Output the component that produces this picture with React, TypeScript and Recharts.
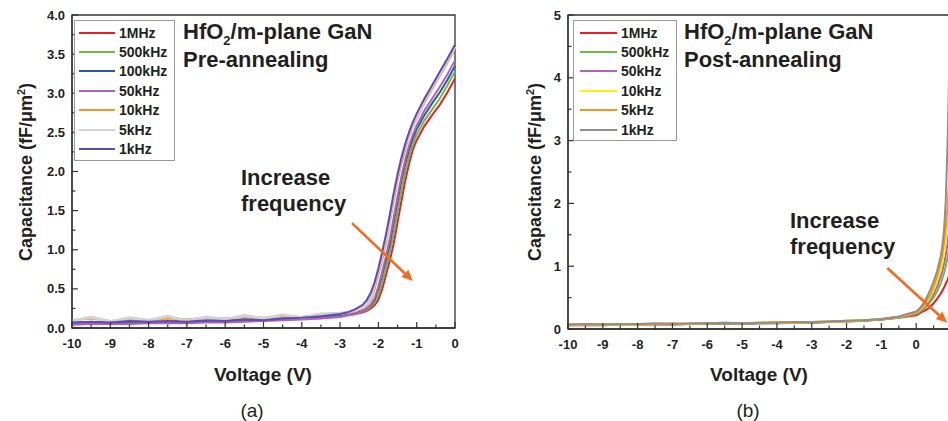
import { LineChart, Line, XAxis, YAxis, Legend, ReferenceLine, ReferenceArea } from 'recharts';

const FONT = '"Liberation Sans", Arial, Helvetica, sans-serif';
const AXIS = '#333333';
const ARROW = '#F26B21';
const TEXT = '#231f20';

// ---- (a) pre-annealing ----
const VOLT_A = [
  -10, -9.5, -9, -8.5, -8, -7.5, -7, -6.5, -6, -5.5, -5, -4.5, -4, -3.5, -3,
  -2.8, -2.6, -2.4, -2.3, -2.2, -2.1, -2.0, -1.9, -1.8, -1.7, -1.6, -1.5, -1.4,
  -1.3, -1.2, -1.1, -1.0, -0.8, -0.6, -0.4, -0.2, 0,
];
const PRE_1MHZ = [0.06, 0.06, 0.07, 0.07, 0.07, 0.08, 0.08, 0.09, 0.09, 0.10, 0.11, 0.12, 0.13, 0.14, 0.16, 0.17, 0.18, 0.20, 0.22, 0.25, 0.29, 0.36, 0.50, 0.68, 0.87, 1.08, 1.35, 1.62, 1.88, 2.10, 2.28, 2.40, 2.58, 2.72, 2.85, 3.01, 3.19];
const PRE_500K = [0.06, 0.07, 0.07, 0.07, 0.08, 0.08, 0.09, 0.09, 0.10, 0.10, 0.11, 0.12, 0.13, 0.15, 0.16, 0.17, 0.19, 0.21, 0.23, 0.27, 0.32, 0.42, 0.58, 0.77, 0.97, 1.21, 1.48, 1.75, 1.99, 2.19, 2.35, 2.47, 2.65, 2.79, 2.93, 3.10, 3.28];
const PRE_100K = [0.07, 0.07, 0.07, 0.08, 0.08, 0.08, 0.09, 0.09, 0.10, 0.11, 0.11, 0.12, 0.14, 0.15, 0.17, 0.18, 0.19, 0.22, 0.25, 0.29, 0.36, 0.50, 0.68, 0.87, 1.08, 1.35, 1.62, 1.88, 2.10, 2.28, 2.42, 2.54, 2.72, 2.87, 3.01, 3.17, 3.35];
const PRE_50K = [0.04, 0.05, 0.05, 0.05, 0.06, 0.06, 0.06, 0.07, 0.07, 0.08, 0.09, 0.10, 0.11, 0.12, 0.14, 0.16, 0.18, 0.21, 0.25, 0.30, 0.38, 0.53, 0.72, 0.92, 1.14, 1.41, 1.68, 1.93, 2.15, 2.33, 2.47, 2.59, 2.78, 2.93, 3.08, 3.24, 3.42];
const PRE_10K = [0.10, 0.12, 0.09, 0.11, 0.10, 0.12, 0.11, 0.13, 0.12, 0.14, 0.13, 0.15, 0.14, 0.17, 0.18, 0.19, 0.21, 0.25, 0.29, 0.36, 0.50, 0.68, 0.87, 1.08, 1.35, 1.62, 1.88, 2.10, 2.28, 2.45, 2.58, 2.68, 2.88, 3.05, 3.22, 3.39, 3.57];
const PRE_5K = [0.09, 0.14, 0.08, 0.13, 0.10, 0.15, 0.09, 0.14, 0.11, 0.16, 0.12, 0.17, 0.13, 0.18, 0.19, 0.20, 0.23, 0.27, 0.31, 0.40, 0.56, 0.74, 0.94, 1.16, 1.42, 1.70, 1.95, 2.17, 2.34, 2.48, 2.61, 2.71, 2.91, 3.08, 3.25, 3.42, 3.60];
const PRE_1K = [0.07, 0.08, 0.07, 0.09, 0.08, 0.09, 0.08, 0.10, 0.09, 0.11, 0.10, 0.12, 0.13, 0.15, 0.18, 0.20, 0.24, 0.30, 0.36, 0.45, 0.58, 0.76, 0.97, 1.20, 1.45, 1.72, 1.96, 2.17, 2.35, 2.50, 2.63, 2.74, 2.93, 3.10, 3.27, 3.44, 3.62];

const NAMES_A = ['1MHz', '500kHz', '100kHz', '50kHz', '10kHz', '5kHz', '1kHz'];
const COLORS_A = ['#EC1C24', '#6CBD45', '#2D5AA8', '#B35EC1', '#F7941E', '#D2D2D2', '#5B4DB3'];
const SERIES_A = [PRE_1MHZ, PRE_500K, PRE_100K, PRE_50K, PRE_10K, PRE_5K, PRE_1K];

const X_TICKS_A = [-10, -9.5, -9, -8.5, -8, -7.5, -7, -6.5, -6, -5.5, -5, -4.5, -4, -3.5, -3, -2.5, -2, -1.5, -1, -0.5, 0];
const Y_TICKS_A = [0, 0.25, 0.5, 0.75, 1, 1.25, 1.5, 1.75, 2, 2.25, 2.5, 2.75, 3, 3.25, 3.5, 3.75, 4];

// ---- (b) post-annealing ----
const VOLT_B = [
  -10, -9.5, -9, -8.5, -8, -7.5, -7, -6.5, -6, -5.5, -5, -4.5, -4, -3.5, -3, -2.5,
  -2, -1.5, -1, -0.5, 0, 0.1, 0.2, 0.3, 0.4, 0.5, 0.6, 0.7, 0.75, 0.8, 0.85, 0.9, 0.95, 1.0,
];
const POST_1MHZ = [0.06, 0.06, 0.06, 0.07, 0.07, 0.07, 0.07, 0.08, 0.08, 0.08, 0.08, 0.09, 0.09, 0.10, 0.10, 0.11, 0.12, 0.13, 0.15, 0.18, 0.22, 0.25, 0.28, 0.31, 0.35, 0.41, 0.48, 0.56, 0.61, 0.66, 0.72, 0.78, 0.86, 0.95];
const POST_500K = [0.06, 0.07, 0.06, 0.07, 0.07, 0.08, 0.07, 0.08, 0.08, 0.09, 0.08, 0.09, 0.09, 0.10, 0.10, 0.11, 0.12, 0.13, 0.15, 0.18, 0.24, 0.27, 0.31, 0.36, 0.43, 0.50, 0.60, 0.72, 0.80, 0.89, 1.00, 1.14, 1.30, 1.50];
const POST_50K = [0.07, 0.07, 0.07, 0.07, 0.08, 0.08, 0.08, 0.08, 0.09, 0.09, 0.09, 0.09, 0.10, 0.10, 0.11, 0.11, 0.12, 0.14, 0.15, 0.19, 0.25, 0.29, 0.33, 0.39, 0.47, 0.56, 0.68, 0.83, 0.92, 1.04, 1.18, 1.36, 1.60, 1.90];
const POST_10K = [0.06, 0.07, 0.07, 0.07, 0.07, 0.08, 0.08, 0.08, 0.09, 0.09, 0.09, 0.10, 0.10, 0.10, 0.11, 0.12, 0.12, 0.14, 0.16, 0.19, 0.26, 0.30, 0.35, 0.42, 0.51, 0.62, 0.76, 0.94, 1.05, 1.20, 1.40, 1.65, 2.00, 2.50];
const POST_5K = [0.06, 0.07, 0.07, 0.08, 0.07, 0.08, 0.09, 0.08, 0.09, 0.10, 0.09, 0.10, 0.11, 0.10, 0.11, 0.12, 0.13, 0.14, 0.16, 0.19, 0.27, 0.31, 0.37, 0.45, 0.55, 0.68, 0.84, 1.05, 1.18, 1.38, 1.62, 1.95, 2.40, 3.00];
const POST_1K = [0.07, 0.08, 0.07, 0.08, 0.08, 0.09, 0.08, 0.09, 0.09, 0.10, 0.09, 0.10, 0.10, 0.11, 0.11, 0.12, 0.13, 0.14, 0.16, 0.20, 0.28, 0.33, 0.40, 0.50, 0.62, 0.76, 0.92, 1.15, 1.32, 1.58, 2.05, 2.95, 4.20, 5.00];

const NAMES_B = ['1MHz', '500kHz', '50kHz', '10kHz', '5kHz', '1kHz'];
const COLORS_B = ['#EC1C24', '#6CBD45', '#B35EC1', '#FFF200', '#F7941E', '#8F8F8F'];
const SERIES_B = [POST_1MHZ, POST_500K, POST_50K, POST_10K, POST_5K, POST_1K];

const X_TICKS_B = [-10, -9.5, -9, -8.5, -8, -7.5, -7, -6.5, -6, -5.5, -5, -4.5, -4, -3.5, -3, -2.5, -2, -1.5, -1, -0.5, 0, 0.5, 1];
const Y_TICKS_B = [0, 0.5, 1, 1.5, 2, 2.5, 3, 3.5, 4, 4.5, 5];

function toRows(volts: number[], series: number[][]) {
  return volts.map((v, i) => {
    const row: any = { v };
    series.forEach((s, k) => {
      row['s' + k] = s[i];
    });
    return row;
  });
}

const rowsA = toRows(VOLT_A, SERIES_A);
const rowsB = toRows(VOLT_B, SERIES_B);

function XTick({ x, y, payload }: any) {
  const major = Number.isInteger(payload.value);
  return (
    <g>
      <line x1={x} x2={x} y1={y} y2={y - (major ? 6 : 3.5)} stroke={AXIS} strokeWidth={1.2} />
      {major && (
        <text x={x} y={y + 20} textAnchor="middle" fontSize={13} fontWeight="bold" fontFamily={FONT} fill={TEXT}>
          {payload.value}
        </text>
      )}
    </g>
  );
}

function makeYTick(step: number, digits: number) {
  return ({ x, y, payload }: any) => {
    const k = payload.value / step;
    const major = Math.abs(k - Math.round(k)) < 1e-6;
    return (
      <g>
        <line x1={x} x2={x + (major ? 6 : 3.5)} y1={y} y2={y} stroke={AXIS} strokeWidth={1.2} />
        {major && (
          <text x={x - 7} y={y + 4.5} textAnchor="end" fontSize={13} fontWeight="bold" fontFamily={FONT} fill={TEXT}>
            {payload.value.toFixed(digits)}
          </text>
        )}
      </g>
    );
  };
}

function LegendBox({ names, colors, padLeft, lineW }: any) {
  return (
    <div
      style={{
        border: '1px solid #9a9a9a',
        background: '#fff',
        padding: `2px 4px 1px ${padLeft}px`,
        fontFamily: FONT,
        fontWeight: 'bold',
        fontSize: 14,
        color: TEXT,
      }}
    >
      {names.map((n: string, i: number) => (
        <div key={n} style={{ display: 'flex', alignItems: 'center', height: 19.4 }}>
          <span style={{ width: lineW, borderTop: `2.5px solid ${colors[i]}`, marginRight: 4 }} />
          <span>{n}</span>
        </div>
      ))}
    </div>
  );
}

function Arrow(props: any) {
  const { x1, y1, x2, y2 } = props;
  const a = Math.atan2(y2 - y1, x2 - x1);
  const L = 11;
  const W = 5;
  const bx = x2 - L * Math.cos(a);
  const by = y2 - L * Math.sin(a);
  const pts = `${x2},${y2} ${bx + W * Math.sin(a)},${by - W * Math.cos(a)} ${bx - W * Math.sin(a)},${by + W * Math.cos(a)}`;
  return (
    <g>
      <line x1={x1} y1={y1} x2={bx} y2={by} stroke={ARROW} strokeWidth={2.6} />
      <polygon points={pts} fill={ARROW} />
    </g>
  );
}

function Title({ x, second }: { x: number; second: string }) {
  return (
    <text x={x} y={39} fontSize={22} fontWeight="bold" fontFamily={FONT} fill={TEXT}>
      HfO<tspan dy={6} fontSize={13}>2</tspan>
      <tspan dy={-6}>/m-plane GaN</tspan>
      <tspan x={x} y={67}>{second}</tspan>
    </text>
  );
}

function YTitle({ cx }: { cx: number }) {
  return (
    <text
      transform={`rotate(-90 ${cx} 172)`}
      x={cx}
      y={178}
      textAnchor="middle"
      fontSize={18}
      fontWeight="bold"
      fontFamily={FONT}
      fill={TEXT}
    >
      Capacitance (fF/μm<tspan dy={-7} fontSize={11}>2</tspan>
      <tspan dy={7}>)</tspan>
    </text>
  );
}

export default function App() {
  return (
    <div style={{ position: 'absolute', left: 0, top: 0, width: 948, height: 421, overflow: 'hidden', background: '#fff' }}>
      <div style={{ position: 'absolute', left: 0, top: 0 }}>
        <LineChart width={470} height={421} data={rowsA} margin={{ top: 15, right: 15, bottom: 0, left: 0 }}>
          <XAxis
            dataKey="v"
            type="number"
            domain={[-10, 0]}
            ticks={X_TICKS_A}
            interval={0}
            height={93}
            tickSize={0}
            tickMargin={0}
            tickLine={false}
            axisLine={{ stroke: AXIS, strokeWidth: 1.3 }}
            tick={<XTick />}
          />
          <YAxis
            type="number"
            domain={[0, 4]}
            ticks={Y_TICKS_A}
            interval={0}
            width={72}
            tickSize={0}
            tickMargin={0}
            tickLine={false}
            allowDataOverflow
            axisLine={{ stroke: AXIS, strokeWidth: 1.3 }}
            tick={makeYTick(0.5, 1)}
          />
          <ReferenceArea x1={-10} x2={0} y1={0} y2={4} fill="none" stroke={AXIS} strokeWidth={1.3} />
          {SERIES_A.map((_, k) => (
            <Line
              key={k}
              dataKey={'s' + k}
              name={NAMES_A[k]}
              type="linear"
              stroke={COLORS_A[k]}
              strokeWidth={k === 5 ? 3 : 2}
              dot={false}
              isAnimationActive={false}
            />
          ))}
          <ReferenceLine segment={[{ x: -2.69, y: 1.34 }, { x: -1.1, y: 0.6 }]} shape={Arrow} />
          <Legend
            layout="vertical"
            align="center"
            verticalAlign="middle"
            wrapperStyle={{ left: 74, top: 20, width: 101 }}
            content={() => <LegendBox names={NAMES_A} colors={COLORS_A} padLeft={4} lineW={36} />}
          />
        </LineChart>
      </div>

      <div style={{ position: 'absolute', left: 480, top: 0 }}>
        <LineChart width={490} height={421} data={rowsB} margin={{ top: 15, right: 19, bottom: 0, left: 0 }}>
          <XAxis
            dataKey="v"
            type="number"
            domain={[-10, 1]}
            ticks={X_TICKS_B}
            interval={0}
            height={92}
            tickSize={0}
            tickMargin={0}
            tickLine={false}
            axisLine={{ stroke: AXIS, strokeWidth: 1.3 }}
            tick={<XTick />}
          />
          <YAxis
            type="number"
            domain={[0, 5]}
            ticks={Y_TICKS_B}
            interval={0}
            width={88}
            tickSize={0}
            tickMargin={0}
            tickLine={false}
            allowDataOverflow
            axisLine={{ stroke: AXIS, strokeWidth: 1.3 }}
            tick={makeYTick(1, 0)}
          />
          <ReferenceArea x1={-10} x2={1} y1={0} y2={5} fill="none" stroke={AXIS} strokeWidth={1.3} />
          {SERIES_B.map((_, k) => (
            <Line
              key={k}
              dataKey={'s' + k}
              name={NAMES_B[k]}
              type="linear"
              stroke={COLORS_B[k]}
              strokeWidth={2}
              dot={false}
              isAnimationActive={false}
            />
          ))}
          <ReferenceLine segment={[{ x: -0.83, y: 0.97 }, { x: 0.89, y: 0.1 }]} shape={Arrow} />
          <Legend
            layout="vertical"
            align="center"
            verticalAlign="middle"
            wrapperStyle={{ left: 93, top: 20, width: 104 }}
            content={() => <LegendBox names={NAMES_B} colors={COLORS_B} padLeft={6} lineW={37} />}
          />
        </LineChart>
      </div>

      <svg width={948} height={421} style={{ position: 'absolute', left: 0, top: 0, pointerEvents: 'none' }}>
        <Title x={183} second="Pre-annealing" />
        <Title x={684} second="Post-annealing" />
        <YTitle cx={26} />
        <YTitle cx={535} />
        <text x={241} y={185} fontSize={22} fontWeight="bold" fontFamily={FONT} fill={TEXT}>
          Increase<tspan x={241} y={211}>frequency</tspan>
        </text>
        <text x={790} y={228} fontSize={22} fontWeight="bold" fontFamily={FONT} fill={TEXT}>
          Increase<tspan x={790} y={254}>frequency</tspan>
        </text>
        <text x={263} y={381} textAnchor="middle" fontSize={19} fontWeight="bold" fontFamily={FONT} fill={TEXT}>
          Voltage (V)
        </text>
        <text x={759} y={381} textAnchor="middle" fontSize={19} fontWeight="bold" fontFamily={FONT} fill={TEXT}>
          Voltage (V)
        </text>
        <text x={252} y={417} textAnchor="middle" fontSize={19} fontFamily={FONT} fill={TEXT}>
          (a)
        </text>
        <text x={748} y={417} textAnchor="middle" fontSize={19} fontFamily={FONT} fill={TEXT}>
          (b)
        </text>
      </svg>
    </div>
  );
}
